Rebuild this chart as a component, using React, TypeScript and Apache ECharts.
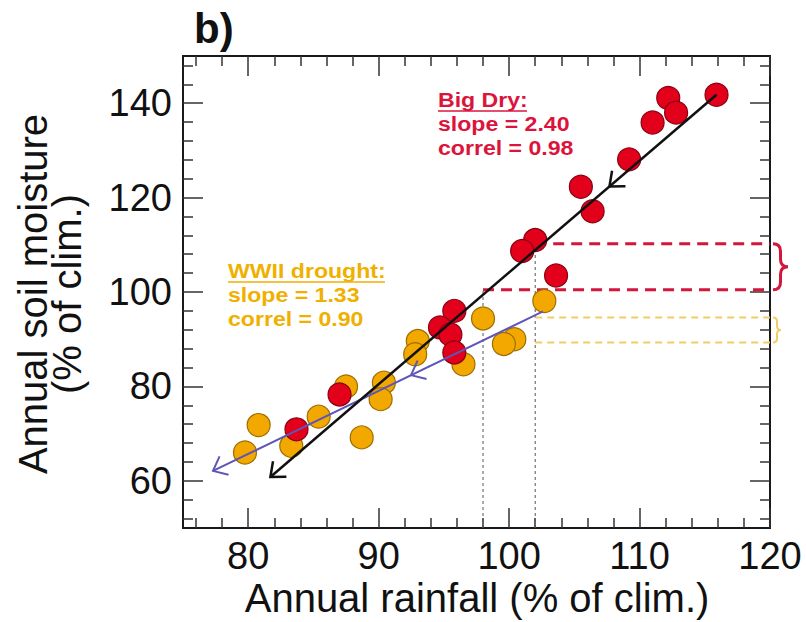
import React, { useEffect, useRef } from "react";
import * as echarts from "echarts";

// ---------- data ----------
const bigDryRain = [115.9, 112.2, 112.8, 111.0, 109.2, 105.5, 106.4, 102.0, 101.0, 103.6, 95.8, 94.7, 95.5, 95.8, 87.0, 83.7];
const bigDrySoil = [141.8, 141.1, 138.0, 135.9, 128.1, 122.3, 117.1, 111.0, 108.7, 103.5, 96.0, 92.5, 91.0, 87.2, 78.3, 70.9];
const wwiiRain = [102.7, 98.0, 100.4, 99.6, 93.0, 92.8, 96.5, 90.4, 90.15, 87.5, 85.4, 88.7, 80.8, 79.75, 83.3];
const wwiiSoil = [98.1, 94.4, 90.0, 89.0, 89.6, 86.8, 84.7, 80.8, 77.3, 80.0, 73.6, 69.2, 71.8, 66.0, 67.4];

// regression fits: [rainStart, soilStart, rainEnd, soilEnd]
const bigDryFit = [81.7, 60.8, 115.9, 141.8];
const wwiiFit = [77.3, 62.1, 102.6, 95.9];

// reference rainfall values and fitted soil moisture there
const rainMarks = [98, 102];
const bigDryAtMarks = [100.5, 110.2];
const wwiiAtMarks = [89.3, 94.6];

const xMajor = [80, 90, 100, 110, 120];
const xMinor = [76, 78, 82, 84, 86, 88, 92, 94, 96, 98, 102, 104, 106, 108, 112, 114, 116, 118];
const yMajor = [60, 80, 100, 120, 140];
const yMinor = [52, 56, 64, 68, 72, 76, 84, 88, 92, 96, 104, 108, 112, 116, 124, 128, 132, 136, 144, 148];

const bigDryLabel = ["Big Dry:", "slope = 2.40", "correl = 0.98"];
const wwiiLabel = ["WWII drought:", "slope = 1.33", "correl = 0.90"];

const X_MIN = 75, X_MAX = 120, Y_MIN = 50, Y_MAX = 150;

// ---------- styles ----------
const FONT = "'Liberation Sans', Arial, Helvetica, sans-serif";
const RED = "#e2001a";
const RED_EDGE = "#8a0012";
const YEL = "#f3a800";
const YEL_EDGE = "#9c6e00";
const RED_TXT = "#dc143c";
const YEL_TXT = "#f0b000";
const BLUE = "#5d55b8";
const RED_DASH = "#d4163c";
const YEL_DASH = "#f2cc66";

export default function App() {
  const ref = useRef<HTMLDivElement>(null);

  useEffect(() => {
    if (!ref.current) return;
    const chart = echarts.init(ref.current, null, { renderer: "svg" });

    const frameLine = { show: true, onZero: false, lineStyle: { color: "#1a1a1a", width: 2 } };
    const tickStyle = { color: "#333", width: 1.5 };

    const mkX = (position: string, values: number[], len: number, labels: boolean) => ({
      type: "value",
      position,
      min: X_MIN,
      max: X_MAX,
      gridIndex: 0,
      axisLine: frameLine,
      splitLine: { show: false },
      axisTick: { show: true, inside: true, length: len, customValues: values, lineStyle: tickStyle },
      axisLabel: labels
        ? { show: true, customValues: values, fontSize: 38, margin: 9, color: "#111", fontFamily: FONT }
        : { show: false },
    });
    const mkY = (position: string, values: number[], len: number, labels: boolean) => ({
      type: "value",
      position,
      min: Y_MIN,
      max: Y_MAX,
      gridIndex: 0,
      axisLine: frameLine,
      splitLine: { show: false },
      axisTick: { show: true, inside: true, length: len, customValues: values, lineStyle: tickStyle },
      axisLabel: labels
        ? { show: true, customValues: values, fontSize: 38, margin: 11, color: "#111", fontFamily: FONT }
        : { show: false },
    });

    const seg = (x0: number, y0: number, x1: number, y1: number) => [x0, y0, x1, y1];
    const redGuides = rainMarks.map((r, i) => seg(r, bigDryAtMarks[i], X_MAX, bigDryAtMarks[i]));
    const yelGuides = wwiiAtMarks.map((v) => seg(rainMarks[1], v, X_MAX, v));
    const vertGuides = rainMarks.map((r, i) => seg(r, Y_MIN, r, bigDryAtMarks[i]));

    const segmentSeries = (data: number[][], stroke: string, width: number, dash: number[]) => ({
      type: "custom",
      z: 1,
      silent: true,
      clip: false,
      data,
      encode: { x: [0, 2], y: [1, 3] },
      renderItem: (_p: any, api: any) => {
        const a = api.coord([api.value(0), api.value(1)]);
        const b = api.coord([api.value(2), api.value(3)]);
        return {
          type: "line",
          shape: { x1: a[0], y1: a[1], x2: b[0], y2: b[1] },
          style: { stroke, lineWidth: width, lineDash: dash, fill: null },
        };
      },
    });

    const ARROW_ANG = (40 * Math.PI) / 180;
    const ARROW_LEN = 16;
    const fitSeries = (fit: number[], stroke: string, width: number, midFrac: number) => ({
      type: "custom",
      z: 5,
      silent: true,
      clip: false,
      data: [fit],
      encode: { x: [0, 2], y: [1, 3] },
      renderItem: (_p: any, api: any) => {
        const a = api.coord([api.value(0), api.value(1)]);
        const b = api.coord([api.value(2), api.value(3)]);
        const dx = b[0] - a[0];
        const dy = b[1] - a[1];
        const len = Math.hypot(dx, dy);
        const ux = dx / len;
        const uy = dy / len;
        const chevron = (px: number, py: number) => {
          const pts: number[][] = [];
          for (const s of [1, -1]) {
            const ang = s * ARROW_ANG;
            const rx = ux * Math.cos(ang) - uy * Math.sin(ang);
            const ry = ux * Math.sin(ang) + uy * Math.cos(ang);
            pts.push([px + rx * ARROW_LEN, py + ry * ARROW_LEN]);
          }
          return {
            type: "polyline",
            shape: { points: [pts[0], [px, py], pts[1]] },
            style: { stroke, lineWidth: width, fill: null },
          };
        };
        return {
          type: "group",
          children: [
            { type: "line", shape: { x1: a[0], y1: a[1], x2: b[0], y2: b[1] }, style: { stroke, lineWidth: width } },
            chevron(a[0], a[1]),
            chevron(a[0] + dx * midFrac, a[1] + dy * midFrac),
          ],
        };
      },
    });

    const braceSeries = (lo: number, hi: number, stroke: string, width: number, w: number) => ({
      type: "custom",
      z: 5,
      silent: true,
      clip: false,
      data: [[X_MAX, lo, hi]],
      encode: { x: 0, y: [1, 2] },
      renderItem: (_p: any, api: any) => {
        const pLo = api.coord([api.value(0), api.value(1)]);
        const pHi = api.coord([api.value(0), api.value(2)]);
        const x0 = pLo[0] + 3;
        const y0 = pHi[1];
        const y1 = pLo[1];
        const xm = x0 + w * 0.5;
        const xt = x0 + w;
        const ym = (y0 + y1) / 2;
        const r = Math.min(w * 0.5, (y1 - y0) / 4);
        const d =
          `M${x0},${y0} Q${xm},${y0} ${xm},${y0 + r} L${xm},${ym - r} Q${xm},${ym} ${xt},${ym} ` +
          `Q${xm},${ym} ${xm},${ym + r} L${xm},${y1 - r} Q${xm},${y1} ${x0},${y1}`;
        return {
          type: "path",
          shape: { pathData: d },
          style: { stroke, lineWidth: width, fill: null },
        };
      },
    });

    const scatter = (rain: number[], soil: number[], fill: string, edge: string, z: number) => ({
      type: "scatter",
      z,
      symbol: "circle",
      symbolSize: 23,
      data: rain.map((r, i) => [r, soil[i]]),
      itemStyle: { color: fill, borderColor: edge, borderWidth: 1.2, opacity: 1 },
      emphasis: { disabled: true },
    });

    const block = (lines: string[], x: number, top: number, lh: number, color: string) => ({
      type: "text",
      x,
      y: top,
      scaleX: 1.1,
      style: {
        text: lines.join("\n"),
        fontSize: 21,
        lineHeight: lh,
        fontWeight: "bold",
        fontFamily: FONT,
        fill: color,
        align: "left",
        verticalAlign: "top",
      },
    });

    const option: any = {
      animation: false,
      backgroundColor: "#ffffff",
      grid: { left: 183, right: 36, top: 56, bottom: 94, containLabel: false },
      xAxis: [
        mkX("bottom", xMajor, 20, true),
        mkX("bottom", xMinor, 10, false),
        mkX("top", xMajor, 20, false),
        mkX("top", xMinor, 10, false),
      ],
      yAxis: [
        mkY("left", yMajor, 20, true),
        mkY("left", yMinor, 10, false),
        mkY("right", yMajor, 20, false),
        mkY("right", yMinor, 10, false),
      ],
      series: [
        segmentSeries(vertGuides, "#555", 1, [3, 3]),
        segmentSeries(yelGuides, YEL_DASH, 2, [7, 5]),
        segmentSeries(redGuides, RED_DASH, 3, [11, 7]),
        scatter(wwiiRain, wwiiSoil, YEL, YEL_EDGE, 2),
        scatter(bigDryRain, bigDrySoil, RED, RED_EDGE, 3),
        fitSeries(wwiiFit, BLUE, 2, 0.6),
        fitSeries(bigDryFit, "#111111", 2.5, 0.76),
        braceSeries(bigDryAtMarks[0], bigDryAtMarks[1], RED_DASH, 3, 15),
        braceSeries(wwiiAtMarks[0], wwiiAtMarks[1], YEL_DASH, 2, 8),
      ],
      graphic: [
        {
          type: "text",
          x: 194,
          y: 28,
          style: { text: "b)", fontSize: 42, fontWeight: "bold", fontFamily: FONT, fill: "#111", align: "left", verticalAlign: "middle" },
        },
        block(bigDryLabel, 438, 88, 24, RED_TXT),
        { type: "line", shape: { x1: 438, y1: 111, x2: 527, y2: 111 }, style: { stroke: RED_TXT, lineWidth: 1.5 } },
        block(wwiiLabel, 228, 259, 24, YEL_TXT),
        { type: "line", shape: { x1: 228, y1: 282, x2: 385, y2: 282 }, style: { stroke: YEL_TXT, lineWidth: 1.5 } },
        {
          type: "text",
          x: 477,
          y: 598,
          style: { text: "Annual rainfall (% of clim.)", fontSize: 40, fontFamily: FONT, fill: "#111", align: "center", verticalAlign: "middle" },
        },
        {
          type: "text",
          x: 50,
          y: 294,
          rotation: Math.PI / 2,
          style: {
            text: "Annual soil moisture\n(% of clim.)",
            fontSize: 40,
            lineHeight: 34,
            fontFamily: FONT,
            fill: "#111",
            align: "center",
            verticalAlign: "middle",
          },
        },
      ],
    };

    chart.setOption(option);
    return () => chart.dispose();
  }, []);

  return (
    <div
      ref={ref}
      style={{ position: "fixed", left: 0, top: 0, width: 806, height: 622, background: "#fff" }}
    />
  );
}
